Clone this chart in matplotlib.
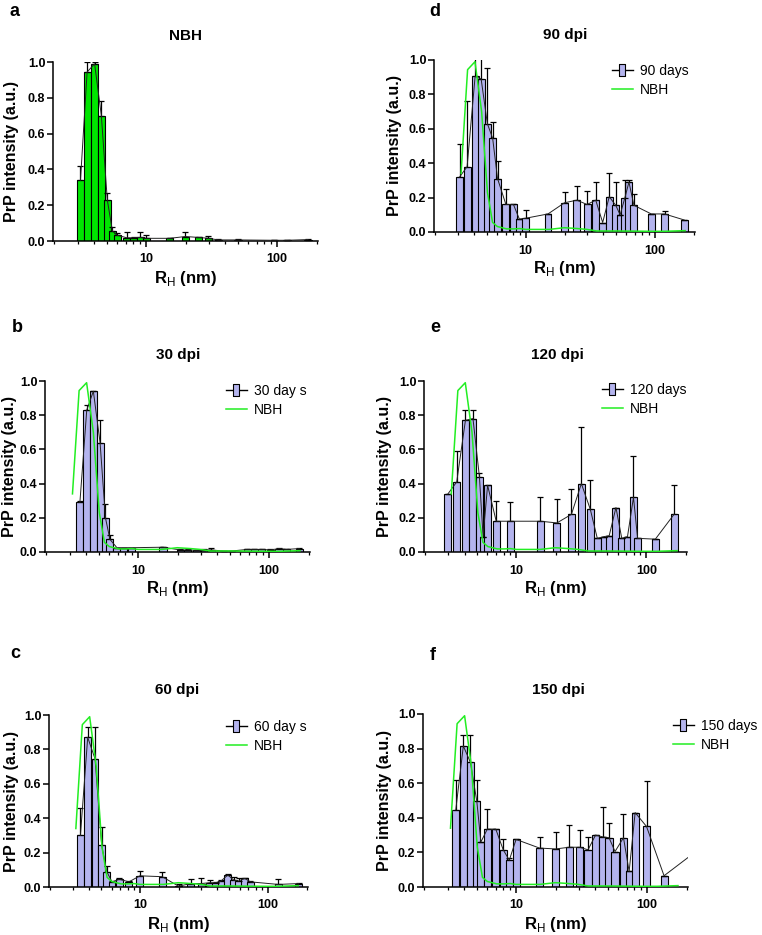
import numpy as np
import matplotlib.pyplot as plt
from matplotlib.lines import Line2D
from matplotlib.ticker import NullFormatter

plt.rcParams['font.family'] = ['Liberation Sans', 'DejaVu Sans']
plt.rcParams['mathtext.fontset'] = 'custom'
plt.rcParams['mathtext.rm'] = 'Liberation Sans'
plt.rcParams['mathtext.bf'] = 'Liberation Sans:bold'

W, H = 762, 935
LAVENDER = '#b4b4ee'
GREEN_BAR = '#00e600'
GREEN_LINE = '#22ee22'
BW = 0.054  # bar width in decades

# ---- data (R_H in nm, mean intensity, top of error bar) ----
nbh_x = [3.16, 3.55, 4.05, 4.56, 5.06, 5.54, 6.03, 7.13, 8.09, 9.0, 10.0, 15.2, 19.9, 25.2, 29.9, 35.5, 50.3, 95, 119, 172]
nbh_y = [0.34, 0.944, 0.99, 0.70, 0.23, 0.056, 0.032, 0.018, 0.018, 0.02, 0.015, 0.015, 0.025, 0.02, 0.015, 0.006, 0.006, 0.004, 0.004, 0.008]
nbh_err = [0.42, 1.0, 1.0, 0.78, 0.27, 0.08, 0.045, 0.05, 0.025, 0.05, 0.035, 0.015, 0.05, 0.025, 0.03, 0.01, 0.01, 0.006, 0.006, 0.012]

d30_x = [3.6, 4.06, 4.56, 5.13, 5.64, 6.1, 6.9, 7.8, 8.9, 15.5, 21, 24, 28, 32, 36, 45, 52, 68, 77, 88, 102, 119, 135, 170]
d30_y = [0.29, 0.83, 0.94, 0.64, 0.20, 0.074, 0.025, 0.025, 0.025, 0.028, 0.012, 0.012, 0.01, 0.012, 0.012, 0.006, 0.006, 0.015, 0.015, 0.015, 0.012, 0.02, 0.015, 0.02]
d30_err = [0.30, 0.86, 0.94, 0.77, 0.28, 0.10, 0.025, 0.025, 0.025, 0.032, 0.015, 0.015, 0.012, 0.02, 0.025, 0.008, 0.008, 0.018, 0.018, 0.018, 0.015, 0.022, 0.018, 0.025]

d60_x = [3.43, 3.91, 4.46, 5.02, 5.5, 6.05, 6.9, 8.2, 10.0, 14.9, 20, 25, 30, 35, 39, 43, 48.5, 54, 59, 65.8, 72.7, 120, 174]
d60_y = [0.30, 0.87, 0.745, 0.245, 0.09, 0.03, 0.045, 0.03, 0.065, 0.06, 0.005, 0.02, 0.02, 0.025, 0.025, 0.035, 0.07, 0.04, 0.035, 0.05, 0.03, 0.015, 0.02]
d60_err = [0.46, 0.93, 0.93, 0.35, 0.12, 0.035, 0.05, 0.035, 0.095, 0.085, 0.02, 0.045, 0.05, 0.04, 0.03, 0.04, 0.075, 0.06, 0.055, 0.055, 0.035, 0.045, 0.025]

d90_x = [3.08, 3.52, 4.06, 4.52, 5.05, 5.55, 6.06, 7.03, 8.04, 8.94, 10.0, 14.9, 20.0, 24.9, 29.9, 34.9, 39.5, 44.4, 49.9, 53.9, 58.5, 63.1, 69, 94, 119, 169]
d90_y = [0.32, 0.38, 0.905, 0.89, 0.63, 0.545, 0.31, 0.16, 0.16, 0.075, 0.08, 0.105, 0.17, 0.185, 0.16, 0.185, 0.055, 0.205, 0.155, 0.10, 0.195, 0.29, 0.155, 0.105, 0.105, 0.07]
d90_err = [0.51, 0.76, 1.1, 1.1, 0.955, 0.64, 0.41, 0.25, 0.16, 0.075, 0.13, 0.105, 0.23, 0.27, 0.24, 0.29, 0.055, 0.345, 0.29, 0.10, 0.30, 0.30, 0.22, 0.105, 0.125, 0.07]

d120_x = [2.98, 3.48, 4.06, 4.64, 5.2, 5.55, 6.01, 7.0, 8.98, 15.3, 20.5, 26.5, 31.6, 37, 41.9, 47.2, 51.7, 58.3, 64.6, 71.5, 79.5, 85.5, 117, 163]
d120_y = [0.34, 0.41, 0.77, 0.78, 0.44, 0.09, 0.39, 0.18, 0.18, 0.18, 0.17, 0.22, 0.40, 0.25, 0.08, 0.09, 0.095, 0.26, 0.08, 0.09, 0.32, 0.08, 0.075, 0.22]
d120_err = [0.34, 0.59, 0.83, 0.83, 0.46, 0.09, 0.39, 0.30, 0.29, 0.32, 0.31, 0.37, 0.73, 0.42, 0.08, 0.09, 0.095, 0.26, 0.08, 0.09, 0.56, 0.08, 0.075, 0.39]

d150_x = [3.47, 3.96, 4.49, 5.02, 5.39, 6.04, 7.0, 7.98, 8.88, 10.0, 15.1, 20.1, 25.5, 30.5, 35.4, 40.4, 45.7, 51.2, 56.9, 66, 72.9, 81, 98.9, 134.6, 250]
d150_y = [0.447, 0.815, 0.72, 0.495, 0.26, 0.335, 0.335, 0.215, 0.155, 0.275, 0.225, 0.22, 0.23, 0.23, 0.215, 0.30, 0.29, 0.285, 0.205, 0.285, 0.09, 0.43, 0.35, 0.065, 0.22]
d150_err = [0.62, 0.88, 0.88, 0.62, 0.26, 0.45, 0.335, 0.28, 0.17, 0.275, 0.29, 0.32, 0.36, 0.33, 0.29, 0.30, 0.46, 0.37, 0.205, 0.42, 0.09, 0.43, 0.61, 0.065, 0.22]

yticks = [0.0, 0.2, 0.4, 0.6, 0.8, 1.0]
ytick_labels = ['0.0', '0.2', '0.4', '0.6', '0.8', '1.0']

fig = plt.figure(figsize=(W / 100, H / 100), dpi=100)


def px_axes(left, top, right, bottom):
    return fig.add_axes([left / W, 1 - bottom / H, (right - left) / W, (bottom - top) / H])


def draw_bars(ax, x, y, err, color):
    x = np.asarray(x, float)
    y = np.asarray(y, float)
    err = np.asarray(err, float)
    lo = x * 10 ** (-BW / 2)
    hi = x * 10 ** (BW / 2)
    ax.bar(lo, y, width=hi - lo, align='edge', color=color, edgecolor='black',
           linewidth=0.8, zorder=2)
    ax.errorbar(x, y, yerr=[np.zeros_like(y), err - y], fmt='none', ecolor='black',
                elinewidth=0.9, capsize=2.5, capthick=0.9, zorder=3)
    ax.plot(x, y, color='#222222', lw=0.7, zorder=3)


def style(ax, box, ylab_off):
    left, top, right, bottom = box
    ax.set_xscale('log')
    ax.set_xlim(1.95, 205)
    ax.set_ylim(0, 1.0)
    for s in ['top', 'right']:
        ax.spines[s].set_visible(False)
    for s in ['left', 'bottom']:
        ax.spines[s].set_linewidth(1.1)
    ax.set_xticks([10, 100])
    ax.set_xticklabels(['10', '100'], fontweight='bold', fontsize=9)
    ax.set_yticks(yticks)
    ax.set_yticklabels(ytick_labels, fontweight='bold', fontsize=9)
    ax.xaxis.set_minor_formatter(NullFormatter())
    ax.tick_params(which='major', length=4, width=1.1)
    ax.tick_params(which='minor', length=2.5, width=0.9)
    ax.tick_params(axis='x', pad=5)
    ax.tick_params(axis='y', pad=1.5)
    axw, axh = right - left, bottom - top
    ax.text(0.5, -37 / axh, r'R$_\mathrm{H}$ (nm)', transform=ax.transAxes,
            ha='center', va='center', fontsize=12, fontweight='bold')
    ax.text(-ylab_off / axw, 0.5, 'PrP intensity (a.u.)', transform=ax.transAxes, rotation=90,
            ha='center', va='center', fontsize=11.5, fontweight='bold')


def legend(ax, label, lx, ly):
    rect = [(-0.5, -1), (0.5, -1), (0.5, 1), (-0.5, 1), (-0.5, -1)]
    h1 = Line2D([], [], color='black', lw=1, marker=rect, ms=9, mfc=LAVENDER, mec='black', mew=0.8)
    h2 = Line2D([], [], color=GREEN_LINE, lw=1.1)
    ax.legend([h1, h2], [label, 'NBH'], loc='upper left', bbox_to_anchor=(lx / W, 1 - ly / H),
              bbox_transform=fig.transFigure, frameon=False, fontsize=10, handlelength=1.5,
              handletextpad=0.5, labelspacing=0.35, borderpad=0, borderaxespad=0)


# panel a: NBH
box = (53, 62, 318, 241)
ax = px_axes(*box)
draw_bars(ax, nbh_x, nbh_y, nbh_err, GREEN_BAR)
style(ax, box, 42)

panels = [
    ((434, 60, 695, 232), d90_x, d90_y, d90_err, '90 days', (612, 64), 39),
    ((45, 381, 310, 552), d30_x, d30_y, d30_err, '30 day s', (226, 384), 35),
    ((424, 381, 687, 552), d120_x, d120_y, d120_err, '120 days', (602, 383), 40),
    ((49, 715, 308, 887), d60_x, d60_y, d60_err, '60 day s', (226, 720), 38),
    ((423, 714, 688, 887), d150_x, d150_y, d150_err, '150 days', (673, 719), 38),
]
for box, x, y, err, label, lpos, yoff in panels:
    ax = px_axes(*box)
    draw_bars(ax, x, y, err, LAVENDER)
    ax.plot(nbh_x, nbh_y, color=GREEN_LINE, lw=1.1, zorder=4)
    style(ax, box, yoff)
    legend(ax, label, *lpos)

titles = [('NBH', 185, 36), ('90 dpi', 565, 35), ('30 dpi', 178, 355),
          ('120 dpi', 557, 355), ('60 dpi', 177, 690), ('150 dpi', 558, 690)]
for t, x, y in titles:
    fig.text(x / W, 1 - y / H, t, ha='center', va='center', fontsize=11, fontweight='bold')

letters = [('a', 15, 12), ('d', 435, 11), ('b', 17, 327), ('e', 435, 328), ('c', 15, 653), ('f', 433, 655)]
for t, x, y in letters:
    fig.text(x / W, 1 - y / H, t, ha='center', va='center', fontsize=13, fontweight='bold')

fig.savefig('out.png', dpi=100)
